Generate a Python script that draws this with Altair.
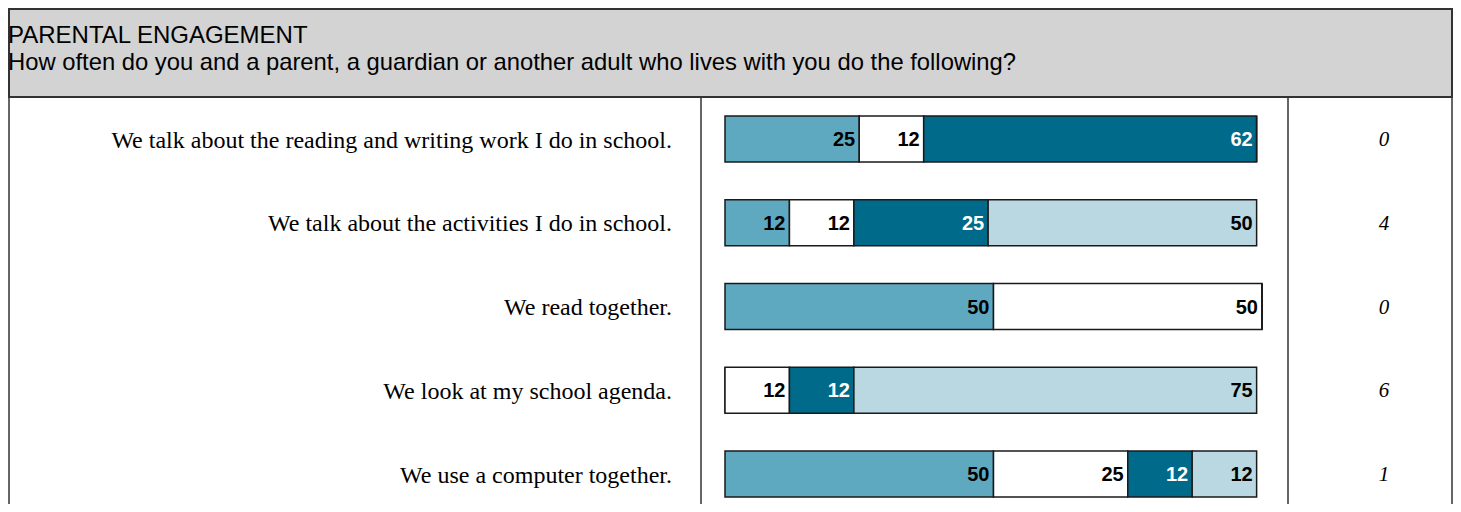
import altair as alt
import pandas as pd

title_line1 = "PARENTAL ENGAGEMENT"
title_line2 = "How often do you and a parent, a guardian or another adult who lives with you do the following?"

questions = [
    "We talk about the reading and writing work I do in school.",
    "We talk about the activities I do in school.",
    "We read together.",
    "We look at my school agenda.",
    "We use a computer together.",
]
categories = ["Response A", "Response B", "Response C", "Response D"]
cat_colors = ["#5FA9C0", "#FFFFFF", "#006A8A", "#B9D8E2"]
label_colors = ["#000000", "#000000", "#FFFFFF", "#000000"]

vals_a = [25, 12, 50, 0, 50]
vals_b = [12, 12, 50, 12, 25]
vals_c = [62, 25, 0, 12, 12]
vals_d = [0, 50, 0, 75, 12]
side_values = ["0", "4", "0", "6", "1"]

rows = []
for qi, q in enumerate(questions):
    for ci, (cat, series) in enumerate(zip(categories, [vals_a, vals_b, vals_c, vals_d])):
        rows.append({"question": q, "category": cat, "order": ci,
                     "value": series[qi], "lblcolor": label_colors[ci]})
df = pd.DataFrame(rows)
side_df = pd.DataFrame({"question": questions, "side": side_values})
one = pd.DataFrame({"k": [0]})

yscale = alt.Scale(domain=questions, range=[89.125, 507.875], paddingInner=0, paddingOuter=0)
xscale = alt.Scale(domain=[0, 100], range=[717, 1254])
Y = alt.Y("question:N", scale=yscale, axis=None)

stacked = alt.Chart(df).transform_stack(
    stack="value", groupby=["question"], as_=["v0", "v1"],
    sort=[alt.SortField("order", order="ascending")]
)

bars = stacked.mark_bar(size=46, stroke="#1a1a1a", strokeWidth=1.5).encode(
    x=alt.X("v0:Q", scale=xscale, axis=None),
    x2="v1:Q",
    y=Y,
    color=alt.Color("category:N", scale=alt.Scale(domain=categories, range=cat_colors), legend=None),
)

bar_labels = stacked.transform_filter("datum.value > 0").mark_text(
    align="right", baseline="middle", dx=-4, dy=1, font="Liberation Sans",
    fontWeight="bold", fontSize=20
).encode(
    x=alt.X("v1:Q", scale=xscale, axis=None),
    y=Y,
    text="value:Q",
    color=alt.Color("lblcolor:N", scale=None),
)

left_labels = alt.Chart(side_df).mark_text(
    align="right", baseline="middle", font="Liberation Serif", fontSize=24, dy=1.5
).encode(x=alt.value(664), y=Y, text="question:N")

right_vals = alt.Chart(side_df).mark_text(
    align="center", baseline="middle", font="Liberation Serif", fontStyle="italic", fontSize=21, dy=1
).encode(x=alt.value(1376), y=Y, text="side:N")

header = alt.Chart(one).mark_rect(fill="#D3D3D3", stroke="#333333", strokeWidth=2).encode(
    x=alt.value(1), x2=alt.value(1444), y=alt.value(1), y2=alt.value(89)
)
h1 = alt.Chart(one).mark_text(align="left", baseline="alphabetic", font="Liberation Sans",
                              fontSize=24, color="#000000").encode(
    x=alt.value(0), y=alt.value(35), text=alt.value(title_line1))
h2 = alt.Chart(one).mark_text(align="left", baseline="alphabetic", font="Liberation Sans",
                              fontSize=23.8, color="#000000").encode(
    x=alt.value(0), y=alt.value(62), text=alt.value(title_line2))

def vrule(xp):
    return alt.Chart(one).mark_rule(color="#333333", strokeWidth=1.5).encode(
        x=alt.value(xp), y=alt.value(89), y2=alt.value(496))

chart = alt.layer(
    vrule(1), vrule(693), vrule(1280), vrule(1444),
    header, h1, h2,
    bars, bar_labels, left_labels, right_vals,
).properties(
    width=1445, height=496, padding=0, autosize=alt.AutoSizeParams(type="none")
).configure_view(strokeWidth=0)

chart.save("out.html", embed_options={"renderer": "svg", "actions": False})
